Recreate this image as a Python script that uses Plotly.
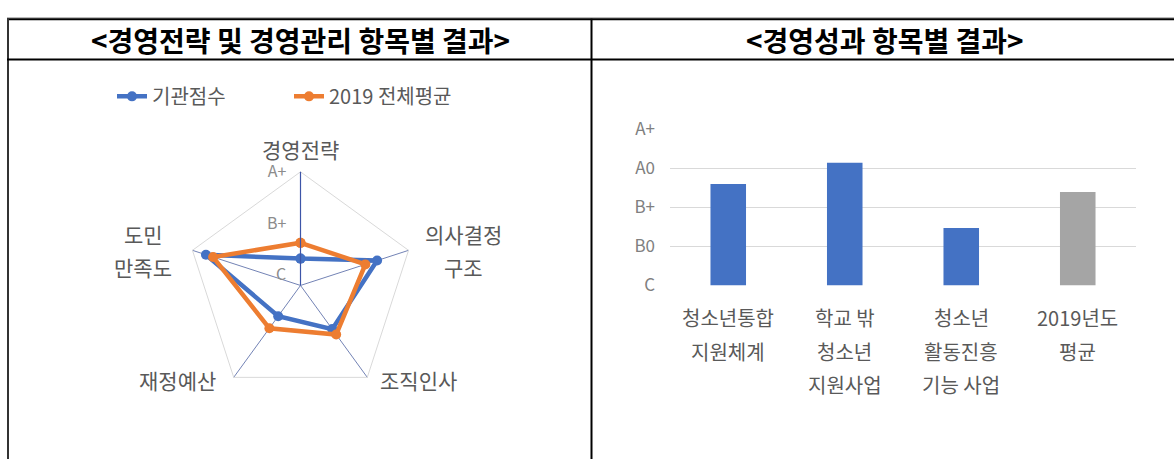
import math
import plotly.graph_objects as go

# ---------------- data ----------------
radar_categories = ["경영전략", "의사결정<br>구조", "조직인사", "재정예산", "도민<br>만족도"]
radar_org = [1.64, 3.72, 2.69, 2.07, 4.45]      # 기관점수
radar_avg = [2.25, 3.24, 2.95, 2.65, 4.16]      # 2019 전체평균
radar_tickvals = [1, 3, 5]
radar_ticktext = ["C", "B+", "A+"]
series_names = ["기관점수", "2019 전체평균"]

bar_categories = ["청소년통합\n지원체계", "학교 밖\n청소년\n지원사업", "청소년\n활동진흥\n기능 사업", "2019년도\n평균"]
bar_values = [2.60, 3.14, 1.47, 2.39]
bar_tickvals = [0, 1, 2, 3, 4]
bar_ticktext = ["C", "B0", "B+", "A0", "A+"]

header_left = "<경영전략 및 경영관리 항목별 결과>"
header_right = "<경영성과 항목별 결과>"

# ---------------- layout helpers ----------------
W, H = 1174, 470
def px(x):
    return x / W
def py(y):
    return 1 - y / H

FONT = "Noto Sans CJK KR"
BLUE = "#4472C4"
ORANGE = "#ED7D31"
GREY_BAR = "#A5A5A5"
TXT = "#595959"

# radar geometry (pixels)
cx, cy, R = 300.5, 286.7, 120
# label offsets from each spoke's outer vertex (pixels), line spacing
radar_label_offsets = [(0, -24), (49, 0), (47, 3), (-52, 3), (-43, 0)]
LINE_GAP = 35

fig = go.Figure()

# radar traces (closed loops)
for name, vals, col in [(series_names[0], radar_org, BLUE), (series_names[1], radar_avg, ORANGE)]:
    fig.add_trace(go.Scatterpolar(
        r=vals + vals[:1],
        theta=radar_categories + radar_categories[:1],
        mode="lines+markers",
        name=name,
        line=dict(color=col, width=4.5),
        marker=dict(color=col, size=10),
        subplot="polar",
    ))

# bar trace
fig.add_trace(go.Bar(
    x=bar_categories,
    y=bar_values,
    marker=dict(color=[BLUE, BLUE, BLUE, GREY_BAR], line=dict(width=0)),
    width=0.305,
    showlegend=False,
    xaxis="x", yaxis="y",
))

fig.update_layout(
    width=W, height=H,
    margin=dict(l=0, r=0, t=0, b=0),
    paper_bgcolor="white",
    plot_bgcolor="white",
    font=dict(family=FONT, color=TXT),
    showlegend=True,
    legend=dict(
        orientation="h",
        x=px(112), xanchor="left",
        y=py(87), yanchor="middle",
        font=dict(size=20, color=TXT, family=FONT),
        entrywidth=132, entrywidthmode="pixels",
        bgcolor="rgba(0,0,0,0)",
    ),
    polar=dict(
        domain=dict(x=[px(cx - R), px(cx + R)], y=[py(cy + R), py(cy - R)]),
        bgcolor="white",
        gridshape="linear",
        angularaxis=dict(
            rotation=90,
            direction="clockwise",
            showline=True,
            linecolor="#d9d9d9",
            linewidth=1,
            showgrid=True,
            gridcolor="#7383b5",
            gridwidth=1,
            ticks="",
            showticklabels=False,
        ),
        radialaxis=dict(
            range=[0.6, 5],
            angle=90,
            tickangle=90,
            side="counterclockwise",
            tickvals=radar_tickvals,
            ticktext=radar_ticktext,
            showgrid=False,
            showline=True,
            linecolor="#3d55a8",
            linewidth=1.2,
            ticks="outside",
            ticklen=8,
            tickcolor="rgba(0,0,0,0)",
            tickfont=dict(size=16, color="#8c8c8c", family=FONT),
        ),
    ),
    xaxis=dict(
        domain=[px(670), px(1136)],
        showticklabels=False,
        showgrid=False,
        zeroline=False,
        showline=False,
        ticks="",
        fixedrange=True,
    ),
    yaxis=dict(
        domain=[py(286.7), py(121.7)],
        range=[0, 4],
        tickvals=bar_tickvals,
        ticktext=bar_ticktext,
        showgrid=True,
        gridcolor="#d9d9d9",
        gridwidth=1,
        zeroline=False,
        showline=False,
        ticks="",
        ticklabelstandoff=14,
        tickfont=dict(size=17, color="#808080", family=FONT),
        fixedrange=True,
    ),
)

annotations = []
# radar category labels: placed beside each spoke's outer vertex, one line each
n = len(radar_categories)
for k, cat in enumerate(radar_categories):
    ang = math.radians(90 - 360.0 * k / n)
    vx = cx + R * math.cos(ang)
    vy = cy - R * math.sin(ang)
    ox, oy = radar_label_offsets[k]
    lines = cat.split("<br>")
    y0 = vy + oy - LINE_GAP * (len(lines) - 1) / 2
    for i, line in enumerate(lines):
        annotations.append(dict(
            x=px(vx + ox), y=py(y0 + LINE_GAP * i), xref="paper", yref="paper",
            text=line, showarrow=False, xanchor="center", yanchor="middle",
            font=dict(size=21, color=TXT, family=FONT),
        ))
# bar category labels, one line per annotation to match line spacing
for cat in bar_categories:
    for i, line in enumerate(cat.split("\n")):
        annotations.append(dict(
            x=cat, xref="x", y=py(321 + LINE_GAP * i), yref="paper",
            text=line, showarrow=False, xanchor="center", yanchor="middle",
            font=dict(size=20, color=TXT, family=FONT),
        ))
# headers
annotations.append(dict(x=px(300), y=py(27), xref="paper", yref="paper", text="<b>" + header_left + "</b>",
                        showarrow=False, xanchor="center", yanchor="middle",
                        font=dict(size=28, color="black", family=FONT)))
annotations.append(dict(x=px(885), y=py(27), xref="paper", yref="paper", text="<b>" + header_right + "</b>",
                        showarrow=False, xanchor="center", yanchor="middle",
                        font=dict(size=28, color="black", family=FONT)))
fig.update_layout(annotations=annotations)

# table borders
shapes = [
    dict(type="line", xref="paper", yref="paper", x0=px(7), x1=1, y0=py(4), y1=py(4), line=dict(color="#a0a0a0", width=1)),
    dict(type="line", xref="paper", yref="paper", x0=px(7), x1=1, y0=py(5.5), y1=py(5.5), line=dict(color="black", width=2)),
    dict(type="line", xref="paper", yref="paper", x0=px(8), x1=px(8), y0=py(5), y1=0, line=dict(color="#333333", width=2)),
    dict(type="line", xref="paper", yref="paper", x0=px(591.5), x1=px(591.5), y0=py(5), y1=0, line=dict(color="black", width=2)),
    dict(type="line", xref="paper", yref="paper", x0=px(7), x1=1, y0=py(48), y1=py(48), line=dict(color="black", width=2)),
]
fig.update_layout(shapes=shapes)

fig.write_html("out.html", post_script="document.body.style.margin='0';")
